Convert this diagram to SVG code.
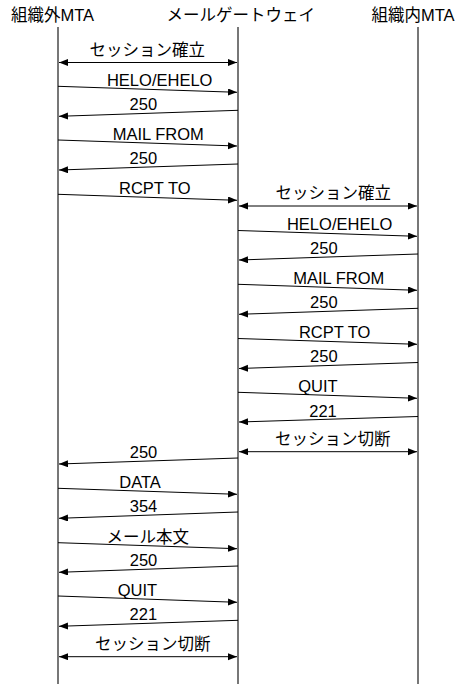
<svg xmlns="http://www.w3.org/2000/svg" width="455" height="684" viewBox="0 0 455 684">
<style>
text{font-family:"Liberation Sans","Noto Sans CJK JP",sans-serif;font-size:16.5px;fill:#000;text-anchor:middle}
.life{stroke:#777;stroke-width:2;fill:none}
.msg{stroke:#000;stroke-width:1;fill:none;marker-end:url(#ah)}
.bi{marker-start:url(#ahs)}
</style>
<defs>
<marker id="ah" markerUnits="userSpaceOnUse" markerWidth="10" markerHeight="8" refX="9" refY="3.5" orient="auto"><path d="M0,0 L9,3.5 L0,7 z" fill="#000"/></marker>
<marker id="ahs" markerUnits="userSpaceOnUse" markerWidth="10" markerHeight="8" refX="9" refY="3.5" orient="auto-start-reverse"><path d="M0,0 L9,3.5 L0,7 z" fill="#000"/></marker>
</defs>
<rect width="455" height="684" fill="#fff"/>
<g id="outer-mta"><text x="52.5" y="21">組織外MTA</text><line class="life" x1="58" y1="27" x2="58" y2="684"/></g>
<g id="gateway"><text x="240.8" y="21">メールゲートウェイ</text><line class="life" x1="238" y1="27" x2="238" y2="684"/></g>
<g id="inner-mta"><text x="413" y="21">組織内MTA</text><line class="life" x1="418" y1="27" x2="418" y2="684"/></g>
<g id="connectors">
<line class="msg bi" x1="59" y1="62.5" x2="237" y2="62.5"/>
<line class="msg" x1="58" y1="86.3" x2="237" y2="92.3"/>
<line class="msg" x1="238" y1="110.3" x2="59" y2="116.3"/>
<line class="msg" x1="58" y1="140" x2="237" y2="146"/>
<line class="msg" x1="238" y1="164" x2="59" y2="170"/>
<line class="msg" x1="58" y1="194.3" x2="237" y2="200.3"/>
<line class="msg bi" x1="239" y1="206" x2="417" y2="206"/>
<line class="msg" x1="238" y1="230.5" x2="417" y2="236.3"/>
<line class="msg" x1="418" y1="254" x2="239" y2="260"/>
<line class="msg" x1="238" y1="284.3" x2="417" y2="290.3"/>
<line class="msg" x1="418" y1="308.3" x2="239" y2="314.3"/>
<line class="msg" x1="238" y1="338.5" x2="417" y2="344.3"/>
<line class="msg" x1="418" y1="362.5" x2="239" y2="368.5"/>
<line class="msg" x1="238" y1="392.3" x2="417" y2="398.3"/>
<line class="msg" x1="418" y1="416.5" x2="239" y2="422"/>
<line class="msg bi" x1="239" y1="451.7" x2="417" y2="451.7"/>
<line class="msg" x1="238" y1="458" x2="59" y2="464"/>
<line class="msg" x1="58" y1="488.3" x2="237" y2="494.3"/>
<line class="msg" x1="238" y1="512" x2="59" y2="518.3"/>
<line class="msg" x1="58" y1="542.7" x2="237" y2="548.7"/>
<line class="msg" x1="238" y1="566" x2="59" y2="572.3"/>
<line class="msg" x1="58" y1="596" x2="237" y2="602.3"/>
<line class="msg" x1="238" y1="620.3" x2="59" y2="626.3"/>
<line class="msg bi" x1="59" y1="656.7" x2="237" y2="656.7"/>
</g>
<g id="labels">
<text x="147.3" y="55.5">セッション確立</text>
<text x="159.7" y="86">HELO/EHELO</text>
<text x="143.3" y="110.3">250</text>
<text x="158.3" y="140">MAIL FROM</text>
<text x="143.3" y="164">250</text>
<text x="154.8" y="194">RCPT TO</text>
<text x="333.3" y="199">セッション確立</text>
<text x="339.7" y="230.3">HELO/EHELO</text>
<text x="323.8" y="254">250</text>
<text x="338.7" y="284">MAIL FROM</text>
<text x="323.8" y="308.3">250</text>
<text x="334.7" y="338.3">RCPT TO</text>
<text x="323.8" y="362.3">250</text>
<text x="318" y="392">QUIT</text>
<text x="323" y="416.5">221</text>
<text x="332.8" y="444.7">セッション切断</text>
<text x="143.5" y="458">250</text>
<text x="140" y="488">DATA</text>
<text x="143.5" y="512">354</text>
<text x="147.8" y="542.5">メール本文</text>
<text x="143.5" y="566">250</text>
<text x="137.5" y="596">QUIT</text>
<text x="143.3" y="620.3">221</text>
<text x="152.8" y="649.7">セッション切断</text>
</g>
</svg>
